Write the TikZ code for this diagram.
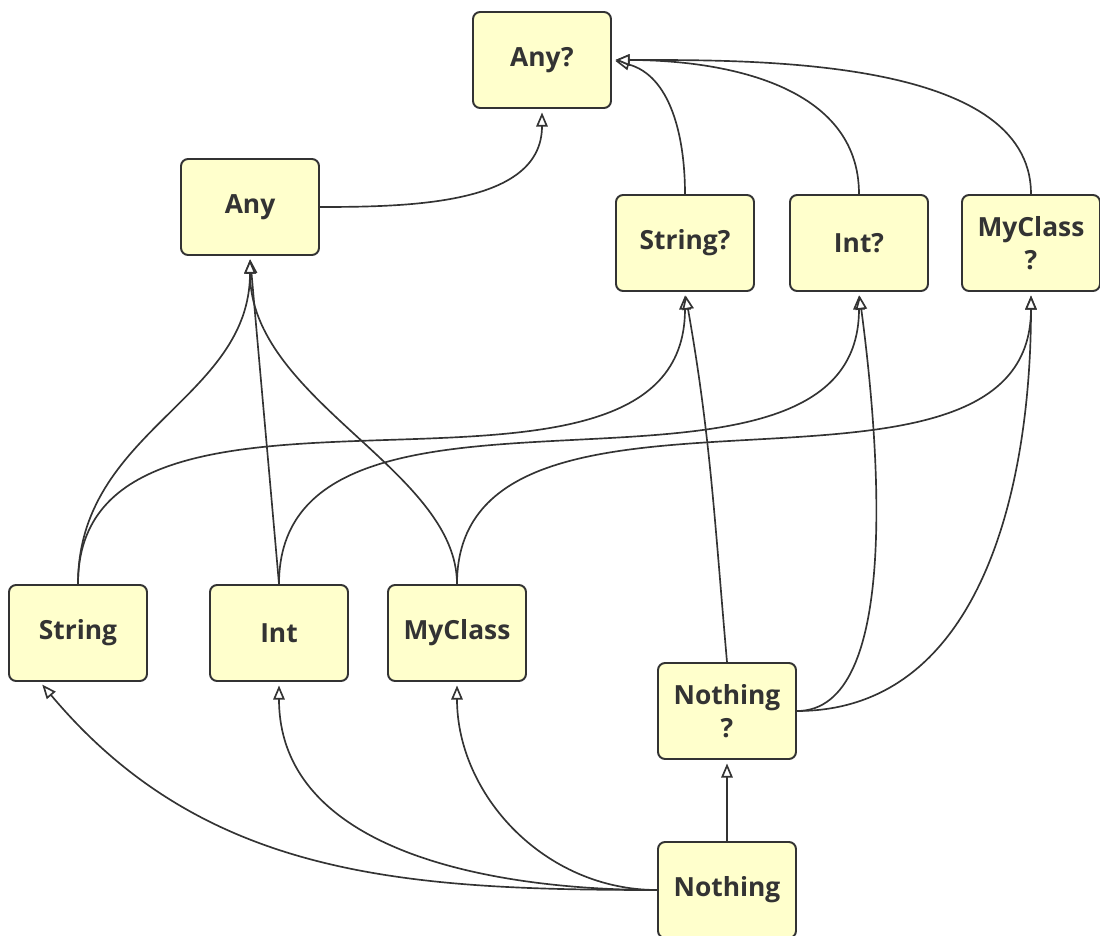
\documentclass[tikz,border=0pt]{standalone}
\usepackage{fontspec}
\setmainfont{Open Sans}
\usepackage{tikz}
\usetikzlibrary{arrows.meta,positioning}
\definecolor{boxfill}{HTML}{FFFFCC}
\definecolor{boxline}{HTML}{333333}
\definecolor{txtgray}{HTML}{333333}

\begin{document}
\begin{tikzpicture}[
			x=0.02cm,y=-0.02cm,
			tbox/.style={draw=boxline,line width=1.1pt,fill=boxfill,rounded corners=4pt,minimum width=2.76cm,minimum height=1.92cm,text width=2.5cm,align=center,font=\fontsize{15}{19}\selectfont\bfseries,text=txtgray,inner sep=0pt},
			arr/.style={-{Triangle[fill=white,length=8pt,width=6.5pt]},line width=0.95pt,boxline,shorten >=2pt}
			]
			\useasboundingbox (0,0) rectangle (1100,936);
			\node[tbox] (anyq) at (542,60) {Any?};
			\node[tbox] (any) at (250,207) {Any};
			\node[tbox] (strq) at (685,243) {String?};
			\node[tbox] (intq) at (859,243) {Int?};
			\node[tbox] (clsq) at (1031,243) {MyClass\\?};
			\node[tbox] (str) at (78,633) {String};
			\node[tbox] (int) at (279,633) {Int};
			\node[tbox] (cls) at (457,633) {MyClass};
			\node[tbox] (nothq) at (727,711) {Nothing\\?};
			\node[tbox] (noth) at (727,890) {Nothing};
			% hacia Any? y Any
			\draw[arr] (any.east) to[out=0,in=-90] (anyq.south);
			\draw[arr] (strq.north) to[out=90,in=-15] (anyq.east);
			\draw[arr] (intq.north) to[out=90,in=0] (anyq.east);
			\draw[arr] (clsq.north) to[out=90,in=0,looseness=0.8] (anyq.east);
			\draw[arr] (str.north) .. controls (78,430) and (250,400) .. (any.south);
			\draw[arr] (int.north) to[out=95,in=-85] (any.south);
			\draw[arr] (cls.north) .. controls (457,470) and (250,400) .. (any.south);
			% hacia los tipos con ?
			\draw[arr] (str.north) to[out=90,in=-90] (strq.south);
			\draw[arr] (int.north) to[out=90,in=-90] (intq.south);
			\draw[arr] (cls.north) to[out=90,in=-90] (clsq.south);
			\draw[arr] (nothq.north) to[out=95,in=-80] (strq.south);
			\draw[arr] (nothq.east) .. controls (900,711) and (880,450) .. (intq.south);
			\draw[arr] (nothq.east) to[out=0,in=-90] (clsq.south);
			% desde Nothing
			\draw[arr] (noth.west) to[out=180,in=-50] ([xshift=-0.76cm]str.south);
			\draw[arr] (noth.west) to[out=180,in=-90] (int.south);
			\draw[arr] (noth.west) to[out=180,in=-90] (cls.south);
			\draw[arr] (noth.north) -- (nothq.south);
		\end{tikzpicture}
\end{document}
